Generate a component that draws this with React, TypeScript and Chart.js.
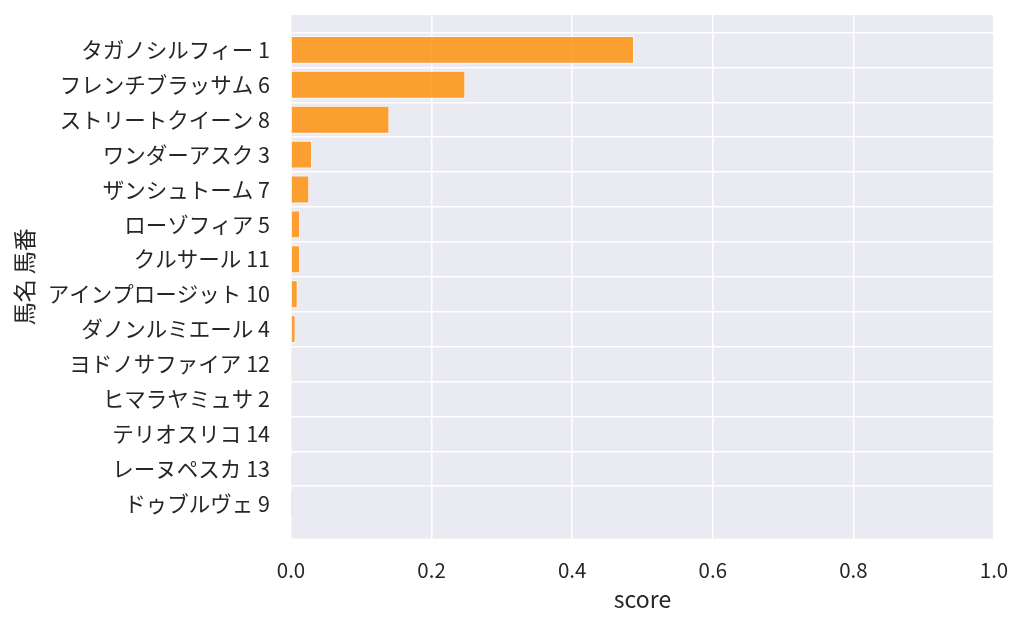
import React, { useEffect, useRef } from 'react';
import { Chart, registerables } from 'chart.js';

Chart.register(...registerables);

// 馬名 馬番 (top to bottom)
const horses: string[] = [
  'タガノシルフィー 1',
  'フレンチブラッサム 6',
  'ストリートクイーン 8',
  'ワンダーアスク 3',
  'ザンシュトーム 7',
  'ローゾフィア 5',
  'クルサール 11',
  'アインプロージット 10',
  'ダノンルミエール 4',
  'ヨドノサファイア 12',
  'ヒマラヤミュサ 2',
  'テリオスリコ 14',
  'レーヌペスカ 13',
  'ドゥブルヴェ 9',
];

const scores: number[] = [
  0.488, 0.248, 0.14, 0.03, 0.026, 0.013, 0.013, 0.0095, 0.0065, 0.002, 0.001, 0.0005,
  0.0003, 0.0002,
];

const xTicks: number[] = [0, 0.2, 0.4, 0.6, 0.8, 1.0];

const FONT = '"Noto Sans CJK JP", "Noto Sans", sans-serif';
const TEXT = '#262626';

const plotBg = {
  id: 'plotBg',
  beforeDraw(chart: any) {
    const { ctx, chartArea } = chart;
    if (!chartArea) return;
    ctx.save();
    ctx.fillStyle = '#eaeaf2';
    ctx.fillRect(chartArea.left, chartArea.top, chartArea.right - chartArea.left, chartArea.bottom - chartArea.top);
    ctx.restore();
  },
};

const ScoreChart: React.FC = () => {
  const canvasRef = useRef<HTMLCanvasElement>(null);
  const chartInstance = useRef<Chart | null>(null);

  useEffect(() => {
    document.body.style.margin = '0';
    if (!canvasRef.current) return;
    const ctx = canvasRef.current.getContext('2d');
    if (!ctx) return;

    // 上下に1カテゴリ分の余白を入れる
    const labels = ['', ...horses, ''];
    const values = [null, ...scores, null];

    chartInstance.current = new Chart(ctx, {
      type: 'bar',
      data: {
        labels,
        datasets: [
          {
            data: values as any,
            backgroundColor: 'rgba(255,140,0,0.8)',
            borderColor: 'rgba(255,255,255,0.8)',
            borderWidth: 1,
            categoryPercentage: 1,
            barPercentage: 0.8,
          },
        ],
      },
      options: {
        indexAxis: 'y',
        animation: false,
        responsive: true,
        maintainAspectRatio: false,
        layout: { padding: { left: 0, right: 30, top: 15, bottom: 0 } },
        plugins: {
          legend: { display: false },
          tooltip: { enabled: false },
        },
        scales: {
          x: {
            type: 'linear',
            min: 0,
            max: 1,
            afterBuildTicks: (axis: any) => {
              axis.ticks = xTicks.map((v) => ({ value: v }));
            },
            afterFit: (axis: any) => {
              axis.height = 88.5;
              axis.paddingLeft = 0;
              axis.paddingRight = 0;
            },
            border: { display: false },
            grid: { color: '#ffffff', lineWidth: 1.5, drawTicks: false },
            ticks: {
              padding: 19,
              color: TEXT,
              font: { family: FONT, size: 20.5 },
              callback: (v: any) => Number(v).toFixed(1),
            },
            title: {
              display: true,
              text: 'score',
              color: TEXT,
              font: { family: FONT, size: 23 },
              padding: { top: 0, bottom: 14 },
            },
          },
          y: {
            type: 'category',
            offset: false,
            afterFit: (axis: any) => {
              axis.width = 291;
              axis.paddingTop = 0;
              axis.paddingBottom = 0;
            },
            border: { display: false },
            grid: {
              color: (c: any) => (c.index === 0 || c.index === labels.length - 1 ? 'rgba(0,0,0,0)' : '#ffffff'),
              lineWidth: 1.5,
              drawTicks: false,
            },
            ticks: {
              padding: 21,
              color: TEXT,
              autoSkip: false,
              font: { family: FONT, size: 21.5 },
            },
            title: {
              display: true,
              text: '馬名 馬番',
              color: TEXT,
              font: { family: FONT, size: 23 },
              padding: { top: 10, bottom: 0 },
            },
          },
        },
      },
      plugins: [plotBg],
    });

    return () => {
      if (chartInstance.current) {
        chartInstance.current.destroy();
        chartInstance.current = null;
      }
    };
  }, []);

  return (
    <div style={{ width: '1024px', height: '627px', position: 'relative' }}>
      <canvas ref={canvasRef}></canvas>
    </div>
  );
};

export default function App() {
  return <ScoreChart />;
}
